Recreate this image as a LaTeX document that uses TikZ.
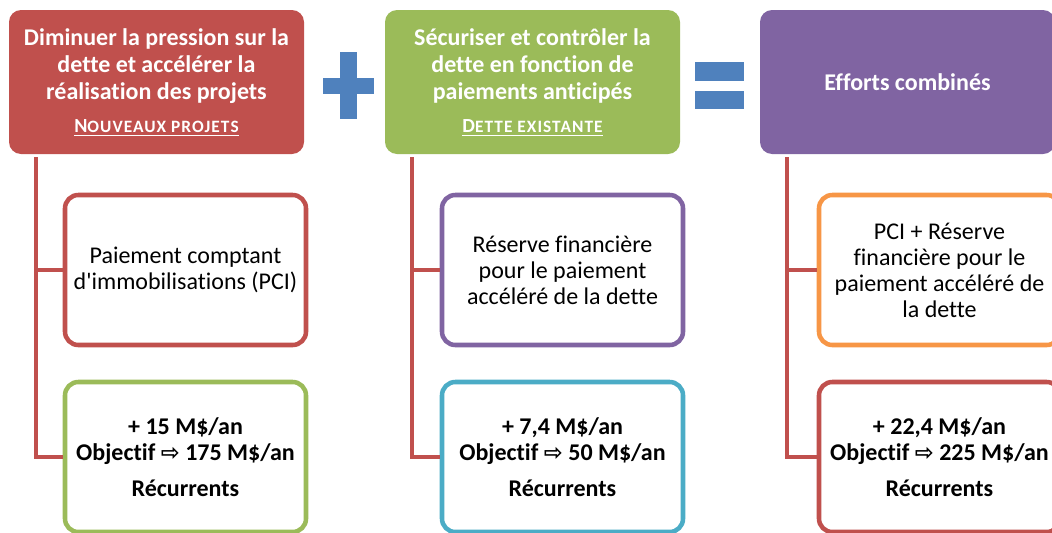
\documentclass[tikz,border=0pt]{standalone}
\usepackage{fontspec}
\setmainfont{Carlito}[Ligatures={NoCommon}]
\newfontfamily\arrowfont{DejaVu Sans}
\usetikzlibrary{positioning}
\definecolor{rouge}{HTML}{C0504D}
\definecolor{vert}{HTML}{9BBB59}
\definecolor{violet}{HTML}{8064A2}
\definecolor{bleu}{HTML}{4F81BD}
\definecolor{turquoise}{HTML}{4BACC6}
\definecolor{orange}{HTML}{F79646}
\newcommand{\objarrow}{{\arrowfont\bfseries\fontsize{17}{17}\selectfont ⇨}}
\newcommand{\subtitle}[2]{{\fontsize{15}{18}\selectfont\underline{#1{\fontsize{13}{18}\selectfont\addfontfeatures{LetterSpace=6}#2}}}}
\tikzset{
  every node/.style={font=\fontsize{18}{19.5}\selectfont},
  hdr/.style={rounded corners=9pt, minimum width=221.25pt, minimum height=108pt, inner sep=0pt,
              align=center, text=white, font=\fontsize{18}{20.25}\selectfont\bfseries},
  child/.style={draw, rounded corners=10pt, line width=3.4pt, fill=white, minimum width=180.75pt,
                minimum height=112.5pt, inner sep=0pt, align=center, text=black},
  result/.style={child, font=\fontsize{18}{19.5}\selectfont\bfseries},
  tree/.style={draw=rouge, line width=3.6pt},
  sign/.style={fill=bleu},
}
\begin{document}
\begin{tikzpicture}[x=0.75pt, y=-0.75pt]
  \useasboundingbox (0,0) rectangle (1052,532);

  % en-tetes
  \node[hdr, fill=rouge] (h1) at (156.5,82)
  {Diminuer la pression sur la\\ dette et accélérer la\\ réalisation des projets\\[5pt] \subtitle{N}{OUVEAUX PROJETS}};
  \node[hdr, fill=vert] (h2) at (532.5,82)
  {Sécuriser et contrôler la\\ dette en fonction de\\ paiements anticipés\\[5pt] \subtitle{D}{ETTE EXISTANTE}};
  \node[hdr, fill=violet] (h3) at (907.5,82) {Efforts combinés};

  % signes
  \fill[sign] (323,78) rectangle (374,94);
  \fill[sign] (340,52) rectangle (357,119);
  \fill[sign] (695,62) rectangle (744,81);
  \fill[sign] (695,91) rectangle (744,109);

  % colonne 1
  \node[child, draw=rouge] (p1) at (185.5,270) {Paiement comptant\\ d\textquotesingle immobilisations (PCI)};
  \node[result, draw=vert] (r1) at (185.5,457) {+ 15 M\$/an\\ Objectif \objarrow{} 175 M\$/an\\[7pt] Récurrents};

  % colonne 2
  \node[child, draw=violet] (p2) at (562.5,270) {Réserve financière\\ pour le paiement\\ accéléré de la dette};
  \node[result, draw=turquoise] (r2) at (562.5,457) {+ 7,4 M\$/an\\ Objectif \objarrow{} 50 M\$/an\\[7pt] Récurrents};

  % colonne 3
  \node[child, draw=orange] (p3) at (939.5,270) {PCI + Réserve\\ financière pour le\\ paiement accéléré de\\ la dette};
  \node[result, draw=rouge] (r3) at (939.5,457) {+ 22,4 M\$/an\\ Objectif \objarrow{} 225 M\$/an\\[7pt] Récurrents};

  % liens
  \foreach \h/\p/\r in {h1/p1/r1, h2/p2/r2, h3/p3/r3} {
    \draw[tree] ([xshift=20.5pt,yshift=-2.25pt]\h.south west) |- (\p.west);
    \draw[tree] ([xshift=20.5pt,yshift=-2.25pt]\h.south west) |- (\r.west);
  }
\end{tikzpicture}
\end{document}
